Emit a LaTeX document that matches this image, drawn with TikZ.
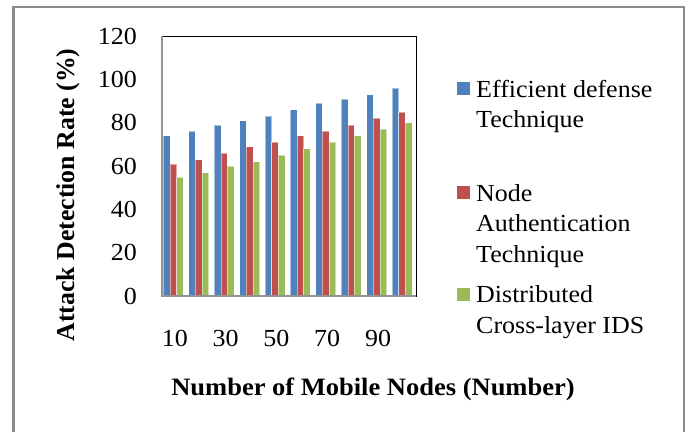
\documentclass[tikz,border=0pt]{standalone}
\usepackage{fontspec}
\setmainfont[FakeStretch=1.06]{Liberation Serif}
\newfontfamily\plainserif{Liberation Serif}
\begin{document}
\begin{tikzpicture}[x=1pt,y=-1pt,
  lbl/.style={inner sep=0pt,font=\fontsize{24.5}{30}\selectfont},
  ttl/.style={inner sep=0pt,font=\fontsize{25}{28}\selectfont\bfseries},
  yttl/.style={inner sep=0pt,font=\plainserif\fontsize{25.8}{28}\selectfont\bfseries},
  legtxt/.style={inner sep=0pt,align=left,anchor=base west,font=\fontsize{24.5}{30.5}\selectfont},
  barA/.style={fill=blueA,draw=white,draw opacity=0.5,line width=0.5pt},
  barB/.style={fill=redB,draw=white,draw opacity=0.5,line width=0.5pt},
  barC/.style={fill=greenC,draw=white,draw opacity=0.5,line width=0.5pt},
  axis/.style={draw=gray!85,line width=1.5pt}]
\definecolor{blueA}{HTML}{4F81BD}
\definecolor{redB}{HTML}{C0504D}
\definecolor{greenC}{HTML}{9BBB59}
\useasboundingbox (0,0) rectangle (693,432);
\fill[white] (0,0) rectangle (693,432);
% outer frame (open at bottom)
\draw[draw=gray!90,line width=2.5pt] (13.5,432) -- (13.5,7) -- (684,7) -- (684,432);
% plot area
\draw[black,line width=1pt] (162,36) rectangle (416,296);
% bars
\def\yb{296}
\def\sc{2.1667}
\foreach \i/\a/\b/\c in {0/74/61/55,1/76/63/57,2/79/66/60,3/81/69/62,4/83/71/65,5/86/74/68,6/89/76/71,7/91/79/74,8/93/82/77,9/96/85/80}{
  \pgfmathsetmacro{\xl}{163.3+\i*25.4}
  \fill[barA] (\xl,\yb) rectangle ++(6.67,-\a*\sc);
  \fill[barB] (\xl+6.67,\yb) rectangle ++(6.67,-\b*\sc);
  \fill[barC] (\xl+13.33,\yb) rectangle ++(6.67,-\c*\sc);
}
% axes
\draw[axis] (162,36) -- (162,296.5);
\draw[axis] (161.3,296) -- (416,296);
% y tick labels
\foreach \v in {0,20,...,120}{
  \node[lbl,anchor=base east] (y\v) at (137,296-\v*2.1667+8) {\v};
}
% x tick labels
\foreach \k/\t in {0/10,1/30,2/50,3/70,4/90}{
  \node[lbl,anchor=base] (x\t) at (174.8+\k*50.8,346) {\t};
}
% axis titles
\node[ttl,anchor=base] (xt) at (373,395) {Number of Mobile Nodes (Number)};
\node[yttl,anchor=base,rotate=90] (yt) at (74,195) {Attack Detection Rate (\%)};
% legend
\fill[blueA] (457,82) rectangle (470,95);
\node[legtxt] (l1) at (476,127.5) {Efficient defense\\Technique};
\fill[redB] (457,186) rectangle (470,199);
\node[legtxt] (l2) at (476,262) {Node\\Authentication\\Technique};
\fill[greenC] (457,288) rectangle (470,301);
\node[legtxt] (l3) at (476,333) {Distributed\\Cross-layer IDS};
\end{tikzpicture}
\end{document}
